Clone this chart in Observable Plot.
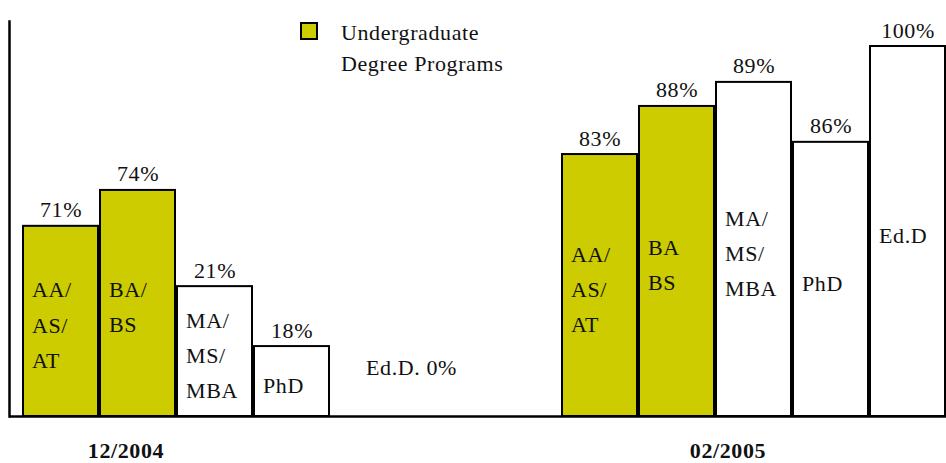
<!DOCTYPE html>
<html>
<head>
<meta charset="utf-8">
<script src="https://cdn.jsdelivr.net/npm/d3@7"></script>
<script src="https://cdn.jsdelivr.net/npm/@observablehq/plot@0.6"></script>
<style>
  html, body { margin: 0; padding: 0; background: #fff; }
  #wrap { position: relative; width: 946px; height: 463px; font-family: "Liberation Serif", "Times New Roman", serif; color: #111; }
  #chart svg text { font-family: "Liberation Serif", "Times New Roman", serif; letter-spacing: 0.6px; }
  #legend { position: absolute; left: 300px; top: 17px; font-size: 22px; line-height: 31px; letter-spacing: 0.6px; }
  #legend .sw { position: absolute; left: 0; top: 5px; width: 14px; height: 14px; background: #cccc00; border: 2px solid #000; }
  #legend .tx { position: absolute; left: 41px; top: 0; white-space: nowrap; }
</style>
</head>
<body>
<div id="wrap">
  <div id="chart"></div>
  <div id="legend"><div class="sw"></div><div class="tx">Undergraduate<br>Degree Programs</div></div>
</div>
<script>
// ---- data ----
const periods = ["12/2004", "02/2005"];
const categories = ["AA/AS/AT", "BA/BS", "MA/MS/MBA", "PhD", "Ed.D"];
const programType = ["Undergraduate", "Undergraduate", "Graduate", "Graduate", "Graduate"];
// printed percentages
const printed2004 = [71, 74, 21, 18, 0];
const printed2005 = [83, 88, 89, 86, 100];
// bar heights as drawn (percent of the axis)
const drawn2004 = [51.4, 61.1, 35.1, 18.9, 0];
const drawn2005 = [70.8, 83.8, 90.3, 74.1, 100];
// labels written inside the bars
const inner2004 = ["AA/\nAS/\nAT", "BA/\nBS", "MA/\nMS/\nMBA", "PhD", "Ed.D."];
const inner2005 = ["AA/\nAS/\nAT", "BA\nBS", "MA/\nMS/\nMBA", "PhD", "Ed.D"];

const key = (p, c) => p + "|" + c;
const rows = [];
categories.forEach((c, i) => rows.push({period: periods[0], key: key(periods[0], c), type: programType[i], value: printed2004[i], height: drawn2004[i], inner: inner2004[i]}));
categories.forEach((c, i) => rows.push({period: periods[1], key: key(periods[1], c), type: programType[i], value: printed2005[i], height: drawn2005[i], inner: inner2005[i]}));
const slots = [...categories.map(c => key(periods[0], c)), "gap-1", "gap-2", ...categories.map(c => key(periods[1], c))];

const shown = rows.filter(d => d.height > 0);
const zero = rows.filter(d => d.height === 0);
const font = {fontSize: 22, fill: "#111", fontFamily: "'Liberation Serif', 'Times New Roman', serif"};

const chart = Plot.plot({
  width: 946,
  height: 463,
  marginLeft: 9,
  marginRight: 0,
  marginTop: 21,
  marginBottom: 47,
  style: {fontFamily: "'Liberation Serif', 'Times New Roman', serif", background: "#fff"},
  x: {type: "band", domain: slots, padding: 0, insetLeft: 13, axis: null},
  y: {domain: [0, 106.76], axis: null},
  color: {domain: ["Undergraduate", "Graduate"], range: ["#cccc00", "#ffffff"]},
  marks: [
    Plot.barY(shown, {x: "key", y: "height", fill: "type", stroke: "#000", strokeWidth: 2, insetLeft: 1, insetRight: 1}),
    Plot.frame({anchor: "left", stroke: "#000", strokeWidth: 2.5}),
    Plot.ruleY([0], {stroke: "#000", strokeWidth: 2.5}),
    Plot.text(shown, {x: "key", y: "height", text: d => d.value + "%", dy: -16, ...font}),
    Plot.text(shown, {x: "key", y: d => d.height / 2, text: "inner", textAnchor: "start", dx: -29, lineHeight: 1.6, ...font}),
    Plot.text(zero, {x: "key", y: 0, text: d => `${d.inner} ${d.value}%`, textAnchor: "start", dx: -3, dy: -49, ...font}),
    Plot.text([periods[0]], {x: () => key(periods[0], categories[1]), y: 0, text: d => d, dx: -12, dy: 34, fontWeight: "bold", ...font}),
    Plot.text([periods[1]], {x: () => key(periods[1], categories[2]), y: 0, text: d => d, dx: -26, dy: 34, fontWeight: "bold", ...font})
  ]
});
document.getElementById("chart").appendChild(chart);
</script>
</body>
</html>
